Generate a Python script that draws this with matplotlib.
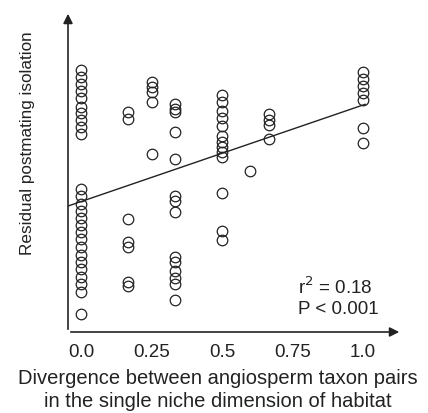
import numpy as np
import matplotlib.pyplot as plt

plt.rcParams['font.family'] = ['Liberation Sans', 'DejaVu Sans']

# divergence in habitat (x) and residual postmating isolation (y, arbitrary units)
x_vals = [0.0] * 26 + [0.167] * 7 + [0.25] * 5 + [0.333] * 14 + [0.5] * 13 + [0.6] + [0.667] * 4 + [1.0] * 7
y_vals = [
    2.62, 2.55, 2.48, 2.41, 2.34, 2.25, 2.19, 2.12, 2.05, 1.98,
    1.43, 1.36, 1.28, 1.21, 1.14, 1.07, 1.00, 0.93, 0.85, 0.77, 0.70, 0.63, 0.55, 0.48, 0.40, 0.18,
    2.20, 2.13, 1.13, 0.90, 0.85, 0.50, 0.46,
    2.50, 2.45, 2.40, 2.30, 1.78,
    2.28, 2.23, 2.20, 2.00, 1.73, 1.36, 1.31, 1.20, 0.75, 0.70, 0.61, 0.54, 0.48, 0.32,
    2.37, 2.30, 2.21, 2.14, 2.06, 1.96, 1.90, 1.85, 1.80, 1.75, 1.39, 1.01, 0.92,
    1.61,
    2.18, 2.12, 2.07, 1.93,
    2.60, 2.53, 2.46, 2.39, 2.32, 2.04, 1.89,
]

# regression line
fit_slope = 0.966
fit_intercept = 1.304
line_x = [-0.046, 1.007]

tick_pos = [0.0, 0.25, 0.5, 0.75, 1.0]
tick_labels = ['0.0', '0.25', '0.5', '0.75', '1.0']

fig = plt.figure(figsize=(4.28, 4.14), dpi=100)
ax = fig.add_axes([68 / 428, 81 / 414, 334 / 428, 321 / 414])
ax.set_xlim(-0.046, 1.138)
ax.set_ylim(0, 3.21)

ax.plot(x_vals, y_vals, 'o', ms=7.6, mfc='none', mec='#222222', mew=0.9, zorder=3)
lx = np.array(line_x)
ax.plot(lx, fit_intercept + fit_slope * lx, color='#222222', lw=1.0, zorder=2)

for s in ax.spines.values():
    s.set_visible(False)
ax.annotate('', xy=(1, 0), xytext=(0, 0), xycoords='axes fraction',
            arrowprops=dict(arrowstyle='-|>', color='#222222', lw=1.2, mutation_scale=14))
ax.annotate('', xy=(0, 1), xytext=(0, 0), xycoords='axes fraction',
            arrowprops=dict(arrowstyle='-|>', color='#222222', lw=1.2, mutation_scale=14))

ax.set_xticks(tick_pos)
ax.set_xticklabels(tick_labels, fontsize=13.5)
ax.tick_params(axis='x', length=0, pad=8, colors='#222222')
ax.set_yticks([])

ax.text(0.77, 0.46, r'r$^2$ = 0.18', fontsize=13.5, va='center', ha='left', color='#222222')
ax.text(0.77, 0.23, 'P < 0.001', fontsize=13.5, va='center', ha='left', color='#222222')

ax.set_ylabel('Residual postmating isolation', fontsize=12.3, color='#222222')
ax.yaxis.set_label_coords(-33 / 334, 190 / 321)
ax.set_xlabel('Divergence between angiosperm taxon pairs\nin the single niche dimension of habitat',
              fontsize=14.5, color='#222222', linespacing=1.25)
ax.xaxis.set_label_coords(150 / 334, -36 / 321)
ax.xaxis.label.set_va('top')

fig.savefig('out.png', dpi=100)
